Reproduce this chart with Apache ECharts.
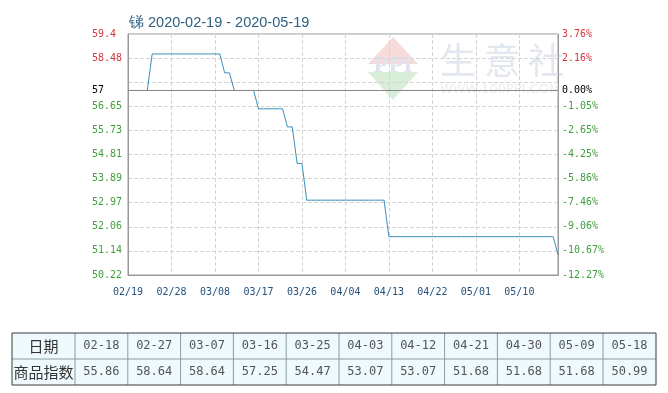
<!DOCTYPE html>
<html><head><meta charset="utf-8">
<script src="https://cdn.jsdelivr.net/npm/echarts@6/dist/echarts.min.js"></script>
<style>html,body{margin:0;padding:0;background:#fff}#c{width:668px;height:393px}</style>
</head><body><div id="c"></div>
<script>
// ---- data ----
var startDate = '2020-02-19';
var dayCount = 90; // 02/19 .. 05/18
// daily price (step line)
var prices = [
  57.25,57.25,57.25,57.25,57.25,            // 02/19-02/23
  58.64,58.64,58.64,58.64,58.64,58.64,58.64,58.64,58.64,58.64,58.64,58.64,58.64,58.64,58.64, // 02/24-03/09
  57.92,57.92,                              // 03/10-03/11
  57.25,57.25,57.25,57.25,57.25,            // 03/12-03/16
  56.55,56.55,56.55,56.55,56.55,56.55,      // 03/17-03/22
  55.86,55.86,                              // 03/23-03/24
  54.47,54.47,                              // 03/25-03/26
  53.07,53.07,53.07,53.07,53.07,53.07,53.07,53.07,53.07,53.07,53.07,53.07,53.07,53.07,53.07,53.07,53.07, // 03/27-04/12
  51.68,51.68,51.68,51.68,51.68,51.68,51.68,51.68,51.68,51.68,51.68,51.68,51.68,51.68,51.68,51.68,51.68,51.68,51.68,51.68,51.68,51.68,51.68,51.68,51.68,51.68,51.68,51.68,51.68,51.68,51.68,51.68,51.68,51.68,51.68, // 04/13-05/17
  50.99                                     // 05/18
];
var baseValue = 57.25;
var baseLabel = '57';
var yMin = 50.22, yMax = 59.4, yStep = 0.918;
var leftTicks = ['50.22','51.14','52.06','52.97','53.89','54.81','55.73','56.65','','58.48','59.4'];
var rightTicks = ['-12.27%','-10.67%','-9.06%','-7.46%','-5.86%','-4.25%','-2.65%','-1.05%','','2.16%','3.76%'];
var tableDates = ['02-18','02-27','03-07','03-16','03-25','04-03','04-12','04-21','04-30','05-09','05-18'];
var tableValues = ['55.86','58.64','58.64','57.25','54.47','53.07','53.07','51.68','51.68','51.68','50.99'];
var titleText = '锑 2020-02-19 - 2020-05-19';

// ---- build categories ----
var categories = [];
(function(){
  var d = new Date(startDate + 'T00:00:00Z');
  for (var i = 0; i < dayCount; i++) {
    var m = d.getUTCMonth() + 1, dd = d.getUTCDate();
    categories.push((m < 10 ? '0' : '') + m + '/' + (dd < 10 ? '0' : '') + dd);
    d.setUTCDate(d.getUTCDate() + 1);
  }
})();

var RED = '#d8343c', GREEN = '#3f9f3f';

// ---- table graphics ----
var tbl = [];
var tLeft = 12, tTop = 333, rowH = 26, firstW = 63, colW = 52.8, tRight = 656;
var inner = '#8c9ca4', outer = '#3c3c3c';
tbl.push({type:'rect', shape:{x:tLeft, y:tTop, width:tRight - tLeft, height:rowH*2}, style:{fill:'#eefafd', stroke:null}, z:1});
tbl.push({type:'line', shape:{x1:tLeft, y1:tTop+rowH, x2:tRight, y2:tTop+rowH}, style:{stroke:inner, lineWidth:1}, z:2});
var xs = [tLeft, tLeft + firstW];
for (var k = 1; k <= tableDates.length; k++) xs.push(tLeft + firstW + colW * k);
xs[xs.length-1] = tRight;
for (var k = 1; k < xs.length - 1; k++) {
  tbl.push({type:'line', shape:{x1:xs[k], y1:tTop, x2:xs[k], y2:tTop+rowH*2}, style:{stroke:inner, lineWidth:1}, z:2});
}
tbl.push({type:'rect', shape:{x:tLeft, y:tTop, width:tRight - tLeft, height:rowH*2}, style:{fill:null, stroke:outer, lineWidth:1}, z:3});
tbl.push({type:'text', x:(xs[0]+xs[1])/2, y:tTop+rowH/2, style:{text:'日期', font:'15px "Noto Sans CJK SC"', fill:'#333', align:'center', verticalAlign:'middle'}, z:3});
tbl.push({type:'text', x:(xs[0]+xs[1])/2, y:tTop+rowH*1.5, style:{text:'商品指数', font:'15px "Noto Sans CJK SC"', fill:'#333', align:'center', verticalAlign:'middle'}, z:3});
for (var k = 0; k < tableDates.length; k++) {
  var cx = (xs[k+1] + xs[k+2]) / 2;
  tbl.push({type:'text', x:cx, y:tTop+rowH/2, style:{text:tableDates[k], font:'12px "DejaVu Sans Mono"', fill:'#555', align:'center', verticalAlign:'middle'}, z:3});
  tbl.push({type:'text', x:cx, y:tTop+rowH*1.5, style:{text:tableValues[k], font:'12px "DejaVu Sans Mono"', fill:'#555', align:'center', verticalAlign:'middle'}, z:3});
}

// ---- watermark ----
var wm = [
  {type:'polygon', shape:{points:[[393,37],[418,64],[368,64]]}, style:{fill:'#f7dada'}, z:0},
  {type:'polygon', shape:{points:[[368,72],[418,72],[393,100]]}, style:{fill:'#d9eed9'}, z:0},
  {type:'text', x:393, y:67, style:{text:'PPI', font:'bold 20px "DejaVu Serif"', fill:'#dfe4ef', align:'center', verticalAlign:'middle'}, z:0},
  {type:'text', x:502, y:60, style:{text:'生 意 社', font:'36px "Noto Sans CJK SC"', fill:'#e3e7ef', align:'center', verticalAlign:'middle'}, z:0},
  {type:'text', x:500, y:90, style:{text:'WWW.100PPI.COM', font:'13px "DejaVu Sans"', fill:'#ededed', align:'center', verticalAlign:'middle'}, z:0}
];

var chart = echarts.init(document.getElementById('c'), null, {renderer:'canvas'});
chart.setOption({
  animation: false,
  backgroundColor: '#fff',
  title: {text: titleText, left: 124, top: 10, textStyle:{fontSize:14.5, fontWeight:'normal', color:'#2e5f80', fontFamily:'Liberation Sans'}},
  grid: {left: 128, right: 110, top: 34, bottom: 118, show: true, borderColor: '#999', borderWidth: 1, backgroundColor:'transparent'},
  xAxis: {
    type: 'category', data: categories, boundaryGap: false,
    axisLine: {lineStyle:{color:'#999'}}, axisTick: {show:false},
    axisLabel: {interval: 8, color:'#24517a', fontSize:10, fontFamily:'DejaVu Sans Mono', margin: 12},
    splitLine: {show:true, interval: 8, lineStyle:{color:'#d4d4d4', type:'dashed'}}
  },
  yAxis: [{
    type: 'value', min: yMin, max: yMax, interval: yStep,
    axisLine: {show:true, lineStyle:{color:'#999'}}, axisTick: {show:false},
    axisLabel: {align:'left', margin: 36, fontSize:10, fontFamily:'DejaVu Sans Mono',
      formatter: function(v, i){ return leftTicks[i] || ''; },
      color: function(v, i){ return i > 8 ? RED : GREEN; }},
    splitLine: {show:true, lineStyle:{color:'#d4d4d4', type:'dashed'}}
  },{
    type: 'value', min: yMin, max: yMax, interval: yStep, position:'right',
    axisLine: {show:true, lineStyle:{color:'#999'}}, axisTick: {show:false},
    axisLabel: {align:'left', margin: 4, fontSize:10, fontFamily:'DejaVu Sans Mono',
      formatter: function(v, i){ return rightTicks[i] || ''; },
      color: function(v, i){ return i > 8 ? RED : GREEN; }},
    splitLine: {show:false}
  }],
  series: [{
    type: 'line', data: prices, yAxisIndex: 0, symbol: 'none',
    lineStyle: {color:'#3b8fbc', width:1},
    markLine: {
      silent: true, symbol: 'none', animation:false,
      lineStyle: {color:'#888', type:'solid', width:1},
      data: [
        {yAxis: baseValue, label:{show:true, position:'start', formatter: baseLabel, distance: 24, color:'#000', fontSize:10, fontFamily:'DejaVu Sans Mono'}},
        {yAxis: baseValue, label:{show:true, position:'end', formatter: '0.00%', distance: 4, color:'#000', fontSize:10, fontFamily:'DejaVu Sans Mono'}}
      ]
    }
  }],
  graphic: wm.concat(tbl)
});
</script></body></html>
